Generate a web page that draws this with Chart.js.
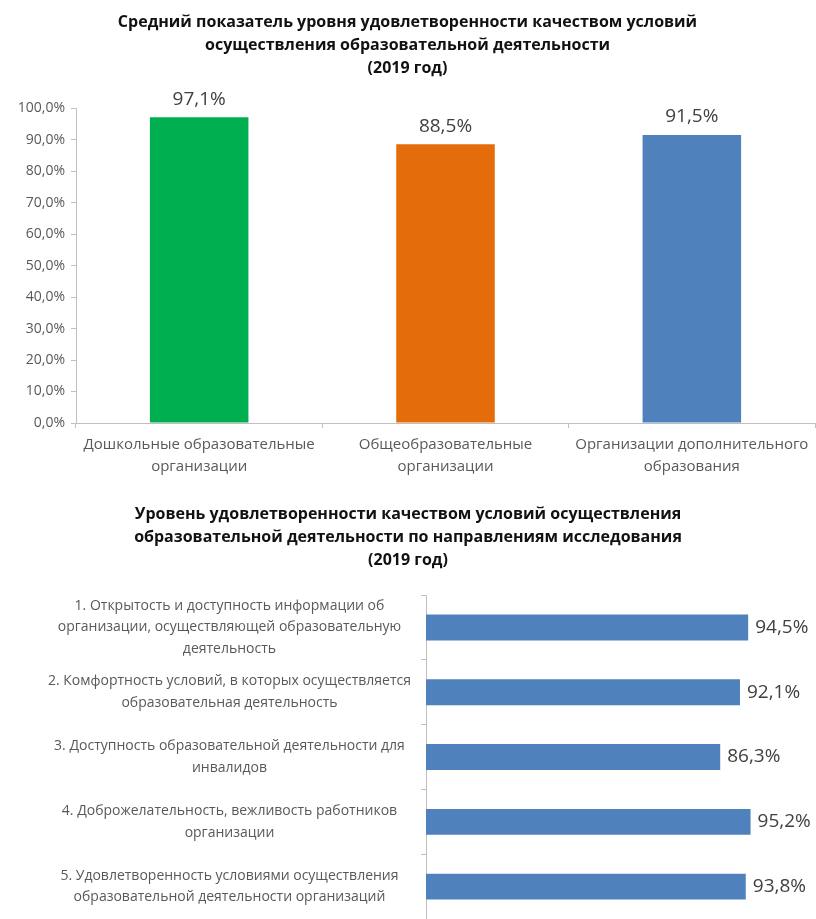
<!DOCTYPE html>
<html lang="ru">
<head>
    <meta charset="UTF-8">
    <title>Удовлетворенность качеством условий (2019 год)</title>
    <script src="https://cdn.jsdelivr.net/npm/chart.js@4.4.1/dist/chart.umd.min.js"></script>
    <style>
        * { margin: 0; padding: 0; box-sizing: border-box; }
        body { background: #fff; width: 816px; height: 919px; overflow: hidden; position: relative; }
        .box { position: absolute; left: 0; width: 816px; }
        #top-box { top: 0; height: 490px; }
        #bottom-box { top: 490px; height: 429px; }
    </style>
</head>
<body>
    <div class="box" id="top-box"><canvas id="levelChart"></canvas></div>
    <div class="box" id="bottom-box"><canvas id="areaChart"></canvas></div>
    <script>
        // ---- data ----
        const levelTitle = ["Средний показатель уровня удовлетворенности качеством условий",
            "осуществления образовательной деятельности", "(2019 год)"];
        const levelCategories = [
            ["Дошкольные образовательные", "организации"],
            ["Общеобразовательные", "организации"],
            ["Организации дополнительного", "образования"]
        ];
        const levelValues = [97.1, 88.5, 91.5];
        const levelColors = ["#00b050", "#e46c0a", "#4f81bd"];

        const areaTitle = ["Уровень удовлетворенности качеством условий осуществления",
            "образовательной деятельности по направлениям исследования", "(2019 год)"];
        const areaCategories = [
            ["1. Открытость и доступность информации об", "организации, осуществляющей образовательную", "деятельность"],
            ["2. Комфортность условий, в которых осуществляется", "образовательная деятельность"],
            ["3. Доступность образовательной деятельности для", "инвалидов"],
            ["4. Доброжелательность, вежливость работников", "организации"],
            ["5. Удовлетворенность условиями осуществления", "образовательной деятельности организаций"]
        ];
        const areaValues = [94.5, 92.1, 86.3, 95.2, 93.8];

        const FONT = "'Open Sans', sans-serif";
        const pct = v => v.toFixed(1).replace(".", ",") + "%";

        // draws the value next to / above every bar
        const valueLabels = {
            id: "valueLabels",
            afterDatasetsDraw(chart, args, opts) {
                const ctx = chart.ctx;
                const meta = chart.getDatasetMeta(0);
                ctx.save();
                ctx.font = opts.size + "px " + FONT;
                ctx.fillStyle = "#404040";
                ctx.textBaseline = "middle";
                meta.data.forEach((bar, i) => {
                    const txt = pct(chart.data.datasets[0].data[i]);
                    if (opts.horizontal) {
                        ctx.textAlign = "left";
                        ctx.fillText(txt, bar.x + opts.offset, bar.y);
                    } else {
                        ctx.textAlign = "center";
                        ctx.fillText(txt, bar.x, bar.y - opts.offset);
                    }
                });
                ctx.restore();
            }
        };

        const axisGrey = "#bfbfbf";
        const titleFont = { family: FONT, size: 16, weight: "bold", lineHeight: 1.44 };

        new Chart(document.getElementById("levelChart"), {
            type: "bar",
            plugins: [valueLabels],
            data: {
                labels: levelCategories,
                datasets: [{
                    data: levelValues,
                    backgroundColor: levelColors,
                    barPercentage: 0.4,
                    categoryPercentage: 1
                }]
            },
            options: {
                responsive: true,
                maintainAspectRatio: false,
                animation: false,
                layout: { padding: { left: 0, right: 1, bottom: 0 } },
                plugins: {
                    legend: { display: false },
                    tooltip: { enabled: false },
                    title: {
                        display: true,
                        text: levelTitle,
                        color: "#111",
                        font: titleFont,
                        padding: { top: 11, bottom: 28 }
                    },
                    valueLabels: { size: 19, offset: 18 }
                },
                scales: {
                    x: {
                        afterFit: s => { s.height = 67; },
                        grid: { drawOnChartArea: false, tickLength: 5, color: axisGrey },
                        border: { color: axisGrey },
                        ticks: { color: "#595959", padding: 6, font: { family: FONT, size: 15, lineHeight: 1.47 } }
                    },
                    y: {
                        min: 0,
                        max: 100,
                        afterFit: s => { s.width = 76; },
                        grid: { drawOnChartArea: false, tickLength: 5, color: axisGrey },
                        border: { color: axisGrey },
                        ticks: {
                            stepSize: 10,
                            padding: 6,
                            color: "#595959",
                            font: { family: FONT, size: 14 },
                            callback: v => pct(v)
                        }
                    }
                }
            }
        });

        new Chart(document.getElementById("areaChart"), {
            type: "bar",
            plugins: [valueLabels],
            data: {
                labels: areaCategories,
                datasets: [{
                    data: areaValues,
                    backgroundColor: "#4f81bd",
                    barPercentage: 0.4,
                    categoryPercentage: 1
                }]
            },
            options: {
                indexAxis: "y",
                responsive: true,
                maintainAspectRatio: false,
                animation: false,
                layout: { padding: { left: 0, right: 0, bottom: 0 } },
                plugins: {
                    legend: { display: false },
                    tooltip: { enabled: false },
                    title: {
                        display: true,
                        text: areaTitle,
                        color: "#111",
                        font: titleFont,
                        padding: { top: 13, bottom: 23 }
                    },
                    valueLabels: { size: 19, offset: 7, horizontal: true }
                },
                scales: {
                    // hidden value axis; extra headroom leaves space for the labels on the right
                    x: { display: false, min: 0, max: 114.4 },
                    y: {
                        afterFit: s => {
                            s.width = 426;
                            s.paddingTop = 0;
                            s.paddingBottom = 0;
                        },
                        grid: { drawOnChartArea: false, tickLength: 5, color: axisGrey },
                        border: { color: axisGrey },
                        ticks: {
                            autoSkip: false,
                            crossAlign: "center",
                            padding: 10,
                            color: "#595959",
                            font: { family: FONT, size: 14, lineHeight: 1.55 }
                        }
                    }
                }
            }
        });
    </script>
</body>
</html>
